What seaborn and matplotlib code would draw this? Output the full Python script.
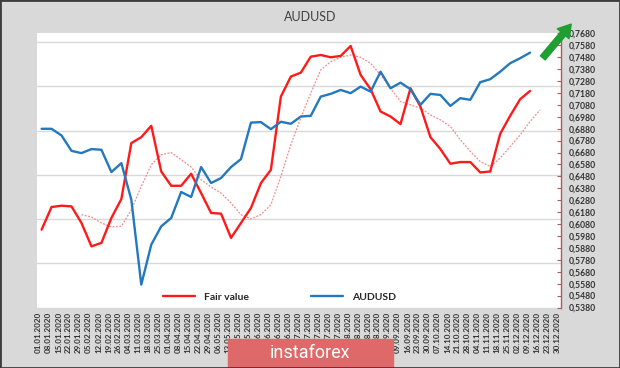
import numpy as np
import pandas as pd
import matplotlib
matplotlib.use("Agg")
import matplotlib.pyplot as plt
import seaborn as sns
from matplotlib.patches import Rectangle, FancyArrowPatch

# Дані (щотижневі значення)
fair_value = [0.6033, 0.6223, 0.6234, 0.6228, 0.6089, 0.5893, 0.5922, 0.6131, 0.6290, 0.6759,
              0.6809, 0.6904, 0.6521, 0.6401, 0.6401, 0.6502, 0.6340, 0.6173, 0.6167, 0.5964,
              0.6089, 0.6215, 0.6424, 0.6535, 0.7149, 0.7317, 0.7350, 0.7484, 0.7498, 0.7479,
              0.7490, 0.7574, 0.7331, 0.7211, 0.7024, 0.6982, 0.6918, 0.7219, 0.7065, 0.6809,
              0.6709, 0.6586, 0.6600, 0.6600, 0.6513, 0.6521, 0.6837, 0.6988, 0.7127, 0.7197]

audusd = [0.6879, 0.6879, 0.6823, 0.6694, 0.6675, 0.6709, 0.6703, 0.6516, 0.6591, 0.6284,
          0.5572, 0.5907, 0.6061, 0.6131, 0.6349, 0.6307, 0.6558, 0.6424, 0.6466, 0.6558,
          0.6625, 0.6931, 0.6935, 0.6876, 0.6938, 0.6921, 0.6982, 0.6988, 0.7149, 0.7172,
          0.7205, 0.7178, 0.7233, 0.7191, 0.7358, 0.7219, 0.7266, 0.7211, 0.7080, 0.7172,
          0.7163, 0.7071, 0.7136, 0.7122, 0.7270, 0.7295, 0.7358, 0.7429, 0.7471, 0.7518]

# Згладжена лінія справедливої вартості (пунктир)
fair_trend = [0.6159, 0.6139, 0.6089, 0.6056, 0.6061, 0.6200, 0.6396, 0.6577, 0.6661, 0.6680,
              0.6619, 0.6558, 0.6452, 0.6391, 0.6340, 0.6257, 0.6159, 0.6123, 0.6159, 0.6242,
              0.6479, 0.6745, 0.6971, 0.7178, 0.7373, 0.7442, 0.7479, 0.7498, 0.7479, 0.7429,
              0.7331, 0.7219, 0.7107, 0.7080, 0.7052, 0.6996, 0.6954, 0.6898, 0.6787, 0.6689,
              0.6605, 0.6563, 0.6633, 0.6730, 0.6828, 0.6940, 0.7038]

data_dates = pd.date_range("2020-01-03", periods=len(audusd), freq="7D")
trend_dates = pd.date_range("2020-01-31", periods=len(fair_trend), freq="7D")
tick_dates = pd.date_range("2020-01-01", "2020-12-30", freq="7D")
y_ticks = np.round(np.arange(0.538, 0.7685, 0.01), 3)

df = pd.DataFrame({"date": data_dates, "fair": fair_value, "audusd": audusd})
df_trend = pd.DataFrame({"date": trend_dates, "trend": fair_trend})

sns.set_theme(style="white")
plt.rcParams["font.family"] = ["Lato", "DejaVu Sans"]

bg = "#d9d9d9"
fig = plt.figure(figsize=(6.2, 3.68), dpi=100, facecolor=bg)
ax = fig.add_axes([0.0602, 0.1644, 0.8442, 0.7451])
ax.set_facecolor("white")

# Сітка (від прихованої основної осі)
for k in range(7):
    ax.axhline(0.538 + k * 0.0371, color="#d9d9d9", lw=1.0, zorder=0)

sns.lineplot(data=df_trend, x="date", y="trend", ax=ax, color="#f08a8a",
             linewidth=0.9, linestyle=(0, (1.5, 1.2)), legend=False)
sns.lineplot(data=df, x="date", y="fair", ax=ax, color="#ff1a1a",
             linewidth=1.7, label="Fair value")
sns.lineplot(data=df, x="date", y="audusd", ax=ax, color="#2478be",
             linewidth=1.7, label="AUDUSD")

ax.set_xlim(pd.Timestamp("2019-12-31"), pd.Timestamp("2021-01-01 12:00"))
ax.set_ylim(0.538, 0.768)
ax.set_xlabel("")
ax.set_ylabel("")

ax.set_xticks(tick_dates)
ax.set_xticklabels([d.strftime("%d.%m.%Y") for d in tick_dates], rotation=90,
                   fontsize=5.8, fontweight="bold", color="#333333")
ax.tick_params(axis="x", length=0, pad=3)

ax.yaxis.tick_right()
ax.set_yticks(y_ticks)
ax.set_yticklabels([f"{v:.4f}".replace(".", ",") for v in y_ticks],
                   fontsize=6.2, fontweight="bold", color="#333333")
ax.tick_params(axis="y", direction="in", length=3, width=0.8, color="#b05a55", pad=6,
               left=False, right=True)

for side in ["top", "left", "bottom"]:
    ax.spines[side].set_visible(False)
ax.spines["right"].set_color("#b05a55")
ax.spines["right"].set_linewidth(1.0)

ax.legend(loc="center", bbox_to_anchor=(0.463, 0.038), ncol=2, frameon=False,
          handlelength=3.1, columnspacing=5.9, handletextpad=0.9,
          prop={"weight": "bold", "size": 7.5})

fig.text(310 / 620, 1 - 17 / 368, "AUDUSD", ha="center", va="center",
         fontsize=9, color="#404040")

# Зелена стрілка
fig.add_artist(FancyArrowPatch((541 / 620, 1 - 60 / 368), (573 / 620, 1 - 22 / 368),
                               transform=fig.transFigure,
                               arrowstyle="simple,head_width=1.1,head_length=0.9,tail_width=0.45",
                               mutation_scale=10, color="#1f9e31"))

# Логотип
fig.add_artist(Rectangle((228 / 620, 0), (393 - 228) / 620, (368 - 339) / 368,
                         transform=fig.transFigure, color="#df6868"))
fig.text(310 / 620, (368 - 353) / 368, "instaforex", ha="center", va="center",
         fontsize=13, color="white", family="Roboto")

fig.add_artist(Rectangle((0, 0), 1, 1, transform=fig.transFigure, fill=False,
                         edgecolor="#3c3c3c", lw=2))

fig.savefig("out.png", dpi=100, facecolor=fig.get_facecolor())
